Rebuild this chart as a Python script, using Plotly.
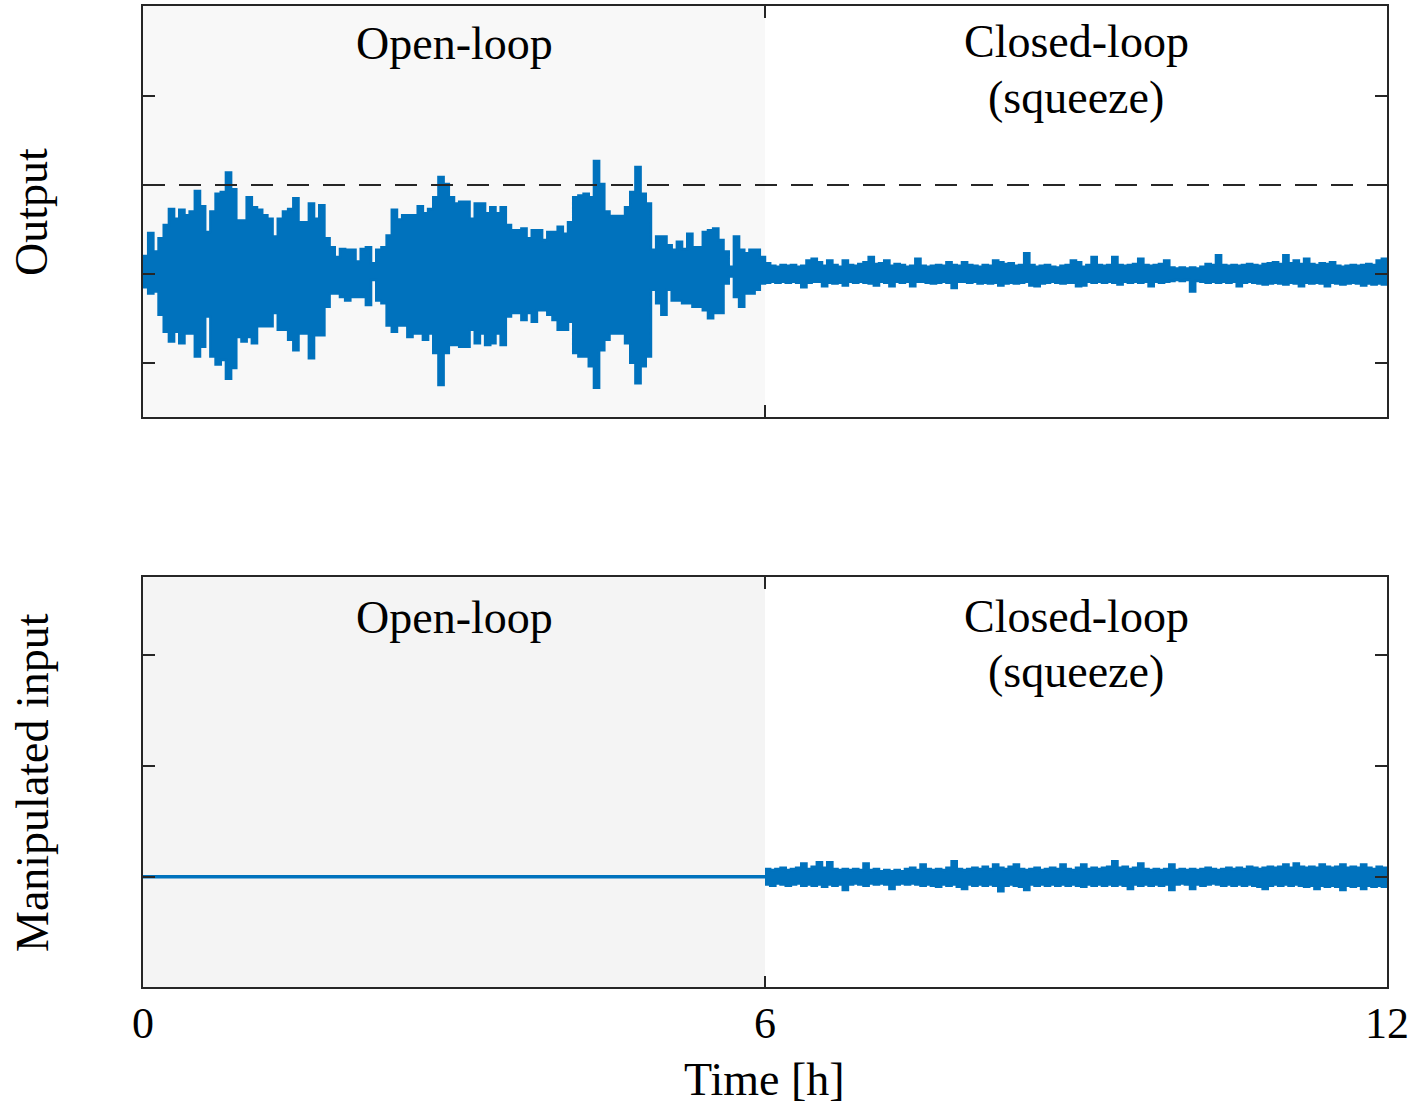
import plotly.graph_objects as go

# ---------------------------------------------------------------
# Data: signal envelopes sampled every 0.05 h (value holds until next sample)
# ---------------------------------------------------------------
dt = 0.05
t_switch = 6.0      # hand-over from open-loop to closed-loop [h]
t_end = 12.0
y_limit = 1.0       # output constraint (dashed line)
u_open = 0.0        # manipulated input held constant in open loop

# Output, open-loop phase (0-6 h): upper / lower envelope
out_open_hi = [
    0.20, 0.46, 0.25, 0.40, 0.55, 0.73, 0.62, 0.72, 0.66, 0.70,
    0.93, 0.76, 0.47, 0.70, 0.90, 0.92, 1.14, 0.95, 0.60, 0.60,
    0.86, 0.75, 0.72, 0.66, 0.62, 0.42, 0.62, 0.70, 0.73, 0.85,
    0.58, 0.58, 0.79, 0.62, 0.77, 0.40, 0.30, 0.19, 0.28, 0.27,
    0.27, 0.14, 0.28, 0.30, 0.12, 0.27, 0.30, 0.43, 0.72, 0.61,
    0.66, 0.66, 0.66, 0.76, 0.68, 0.73, 0.86, 1.09, 1.01, 0.86,
    0.79, 0.81, 0.81, 0.62, 0.79, 0.79, 0.68, 0.75, 0.68, 0.75,
    0.55, 0.49, 0.49, 0.51, 0.40, 0.49, 0.49, 0.38, 0.47, 0.47,
    0.53, 0.45, 0.58, 0.86, 0.88, 0.90, 0.86, 1.27, 1.01, 0.70,
    0.65, 0.65, 0.65, 0.75, 0.92, 1.20, 0.90, 0.79, 0.27, 0.42,
    0.42, 0.32, 0.27, 0.36, 0.28, 0.45, 0.30, 0.30, 0.47, 0.49,
    0.51, 0.38, 0.25, 0.08, 0.42, 0.27, 0.23, 0.27, 0.27, 0.19,
]
out_open_lo = [
    -0.15, -0.22, -0.20, -0.46, -0.65, -0.76, -0.65, -0.78, -0.67, -0.67,
    -0.93, -0.82, -0.48, -0.93, -1.02, -0.97, -1.18, -1.06, -0.71, -0.76,
    -0.71, -0.78, -0.59, -0.59, -0.59, -0.44, -0.63, -0.63, -0.74, -0.86,
    -0.67, -0.67, -0.95, -0.69, -0.69, -0.37, -0.22, -0.22, -0.26, -0.30,
    -0.26, -0.26, -0.26, -0.35, -0.07, -0.30, -0.33, -0.58, -0.65, -0.58,
    -0.58, -0.71, -0.67, -0.67, -0.74, -0.67, -0.89, -1.25, -0.89, -0.80,
    -0.80, -0.82, -0.82, -0.63, -0.78, -0.67, -0.80, -0.78, -0.67, -0.80,
    -0.48, -0.44, -0.44, -0.52, -0.44, -0.54, -0.41, -0.41, -0.46, -0.52,
    -0.63, -0.63, -0.54, -0.89, -0.93, -0.93, -1.04, -1.28, -0.86, -0.74,
    -0.67, -0.67, -0.67, -0.78, -1.00, -1.23, -1.04, -0.93, -0.18, -0.33,
    -0.46, -0.18, -0.30, -0.30, -0.33, -0.33, -0.37, -0.37, -0.41, -0.50,
    -0.44, -0.44, -0.11, -0.03, -0.26, -0.37, -0.22, -0.22, -0.18, -0.11,
]

# Output, closed-loop phase (6-12 h)
out_closed_hi = [
    0.12, 0.09, 0.08, 0.10, 0.09, 0.10, 0.08, 0.09, 0.15, 0.17,
    0.13, 0.09, 0.15, 0.10, 0.08, 0.15, 0.10, 0.09, 0.11, 0.13,
    0.19, 0.11, 0.12, 0.15, 0.09, 0.11, 0.10, 0.08, 0.09, 0.17,
    0.09, 0.08, 0.09, 0.10, 0.09, 0.13, 0.10, 0.09, 0.13, 0.10,
    0.09, 0.08, 0.10, 0.09, 0.15, 0.13, 0.11, 0.12, 0.09, 0.10,
    0.23, 0.10, 0.08, 0.09, 0.10, 0.08, 0.07, 0.09, 0.10, 0.15,
    0.13, 0.08, 0.10, 0.19, 0.10, 0.09, 0.10, 0.19, 0.10, 0.09,
    0.10, 0.11, 0.17, 0.10, 0.09, 0.10, 0.11, 0.15, 0.07, 0.06,
    0.07, 0.06, 0.07, 0.06, 0.08, 0.11, 0.10, 0.21, 0.10, 0.09,
    0.10, 0.09, 0.10, 0.11, 0.10, 0.09, 0.11, 0.12, 0.13, 0.11,
    0.21, 0.12, 0.15, 0.11, 0.17, 0.11, 0.10, 0.12, 0.11, 0.13,
    0.09, 0.08, 0.09, 0.10, 0.09, 0.10, 0.11, 0.10, 0.15, 0.17,
]
out_closed_lo = [
    -0.10, -0.09, -0.10, -0.09, -0.10, -0.09, -0.10, -0.15, -0.10, -0.09,
    -0.09, -0.14, -0.10, -0.11, -0.10, -0.13, -0.09, -0.10, -0.09, -0.10,
    -0.11, -0.13, -0.09, -0.10, -0.14, -0.09, -0.10, -0.09, -0.14, -0.09,
    -0.09, -0.10, -0.11, -0.10, -0.09, -0.10, -0.16, -0.09, -0.09, -0.10,
    -0.09, -0.11, -0.10, -0.11, -0.10, -0.13, -0.11, -0.10, -0.11, -0.10,
    -0.09, -0.13, -0.14, -0.11, -0.10, -0.09, -0.10, -0.11, -0.10, -0.10,
    -0.14, -0.13, -0.09, -0.10, -0.09, -0.10, -0.09, -0.10, -0.12, -0.09,
    -0.10, -0.09, -0.10, -0.09, -0.14, -0.09, -0.10, -0.09, -0.08, -0.07,
    -0.08, -0.07, -0.20, -0.08, -0.09, -0.10, -0.09, -0.10, -0.09, -0.10,
    -0.09, -0.14, -0.10, -0.09, -0.10, -0.11, -0.12, -0.11, -0.10, -0.11,
    -0.12, -0.10, -0.11, -0.14, -0.10, -0.11, -0.10, -0.11, -0.14, -0.10,
    -0.11, -0.12, -0.11, -0.10, -0.11, -0.13, -0.11, -0.12, -0.11, -0.12,
]

# Manipulated input, closed-loop phase (6-12 h)
u_closed_hi = [
    0.07, 0.06, 0.07, 0.08, 0.06, 0.07, 0.08, 0.12, 0.07, 0.09,
    0.13, 0.08, 0.13, 0.07, 0.06, 0.07, 0.06, 0.07, 0.06, 0.12,
    0.06, 0.07, 0.05, 0.06, 0.05, 0.06, 0.05, 0.07, 0.08, 0.06,
    0.11, 0.07, 0.06, 0.07, 0.06, 0.08, 0.14, 0.07, 0.06, 0.07,
    0.08, 0.07, 0.09, 0.07, 0.11, 0.08, 0.07, 0.09, 0.11, 0.07,
    0.06, 0.07, 0.08, 0.06, 0.07, 0.08, 0.07, 0.11, 0.07, 0.06,
    0.08, 0.11, 0.07, 0.08, 0.07, 0.08, 0.09, 0.14, 0.08, 0.09,
    0.07, 0.08, 0.12, 0.07, 0.06, 0.07, 0.06, 0.07, 0.11, 0.06,
    0.07, 0.06, 0.07, 0.06, 0.07, 0.08, 0.07, 0.06, 0.07, 0.08,
    0.07, 0.08, 0.07, 0.09, 0.08, 0.07, 0.08, 0.09, 0.08, 0.09,
    0.11, 0.08, 0.12, 0.09, 0.08, 0.09, 0.08, 0.11, 0.09, 0.08,
    0.09, 0.11, 0.08, 0.09, 0.08, 0.11, 0.08, 0.07, 0.09, 0.08,
]
u_closed_lo = [
    -0.07, -0.08, -0.06, -0.07, -0.08, -0.07, -0.06, -0.08, -0.07, -0.08,
    -0.07, -0.09, -0.07, -0.08, -0.07, -0.12, -0.07, -0.06, -0.07, -0.08,
    -0.06, -0.07, -0.06, -0.07, -0.11, -0.07, -0.06, -0.07, -0.06, -0.07,
    -0.08, -0.07, -0.08, -0.09, -0.07, -0.08, -0.07, -0.09, -0.11, -0.07,
    -0.08, -0.07, -0.08, -0.07, -0.08, -0.13, -0.08, -0.07, -0.08, -0.09,
    -0.12, -0.07, -0.08, -0.07, -0.08, -0.07, -0.08, -0.07, -0.08, -0.07,
    -0.08, -0.09, -0.07, -0.08, -0.07, -0.08, -0.07, -0.08, -0.07, -0.08,
    -0.11, -0.07, -0.08, -0.07, -0.08, -0.07, -0.08, -0.07, -0.12, -0.07,
    -0.06, -0.07, -0.11, -0.07, -0.08, -0.07, -0.06, -0.07, -0.08, -0.07,
    -0.08, -0.07, -0.08, -0.07, -0.08, -0.09, -0.11, -0.08, -0.07, -0.08,
    -0.07, -0.08, -0.07, -0.08, -0.09, -0.08, -0.11, -0.08, -0.09, -0.08,
    -0.09, -0.12, -0.08, -0.09, -0.08, -0.11, -0.08, -0.09, -0.08, -0.09,
]

x_ticks = [0, 6, 12]
x_ticktext = ["0", "6", "12"]
y_ticks_out = [-1, 0, 1, 2]
y_ticks_in = [0, 1, 2]

# ---------------------------------------------------------------
# Styling
# ---------------------------------------------------------------
BLUE = "#0072BD"
AX = "#262626"
FONT = "Liberation Serif"
FS = 46


def step_times(t0, n):
    return [round(t0 + dt * k, 4) for k in range(n + 1)]


def hold_last(vals):
    return list(vals) + [vals[-1]]


t_out = step_times(0.0, len(out_open_hi) + len(out_closed_hi))
out_hi = hold_last(out_open_hi + out_closed_hi)
out_lo = hold_last(out_open_lo + out_closed_lo)
t_u = step_times(t_switch, len(u_closed_hi))

fig = go.Figure()

# Output band (dense oscillation rendered as envelope)
fig.add_trace(go.Scatter(x=t_out, y=out_hi, mode="lines",
                         line=dict(color=BLUE, width=2.5, shape="hv"),
                         xaxis="x", yaxis="y", showlegend=False, hoverinfo="skip"))
fig.add_trace(go.Scatter(x=t_out, y=out_lo, mode="lines",
                         line=dict(color=BLUE, width=2.5, shape="hv"),
                         fill="tonexty", fillcolor=BLUE,
                         xaxis="x", yaxis="y", showlegend=False, hoverinfo="skip"))

# Manipulated input: constant in open loop, then active
fig.add_trace(go.Scatter(x=[0.0, t_switch], y=[u_open, u_open], mode="lines",
                         line=dict(color=BLUE, width=3.4),
                         xaxis="x2", yaxis="y2", showlegend=False, hoverinfo="skip"))
fig.add_trace(go.Scatter(x=t_u, y=hold_last(u_closed_hi), mode="lines",
                         line=dict(color=BLUE, width=2.5, shape="hv"),
                         xaxis="x2", yaxis="y2", showlegend=False, hoverinfo="skip"))
fig.add_trace(go.Scatter(x=t_u, y=hold_last(u_closed_lo), mode="lines",
                         line=dict(color=BLUE, width=2.5, shape="hv"),
                         fill="tonexty", fillcolor=BLUE,
                         xaxis="x2", yaxis="y2", showlegend=False, hoverinfo="skip"))

axis_style = dict(
    showline=True, linecolor=AX, linewidth=1.5, mirror="allticks",
    ticks="inside", ticklen=12, tickwidth=1.5, tickcolor=AX,
    showgrid=False, zeroline=False, automargin=False,
)

X_DOM = [143 / 1415, 1387 / 1415]

fig.update_layout(
    width=1415, height=1106,
    margin=dict(l=0, r=0, t=0, b=0),
    paper_bgcolor="white", plot_bgcolor="white",
    font=dict(family=FONT, size=FS, color="black"),
    xaxis=dict(domain=X_DOM, range=[0, t_end], anchor="y",
               tickvals=x_ticks, showticklabels=False, **axis_style),
    yaxis=dict(domain=[0.6232, 0.9946], range=[-1.607, 3.012], anchor="x",
               tickvals=y_ticks_out, showticklabels=False, **axis_style),
    xaxis2=dict(domain=X_DOM, range=[0, t_end], anchor="y2",
                tickvals=x_ticks, ticktext=x_ticktext, ticklabelstandoff=-4,
                tickfont=dict(family=FONT, size=44, color="black"), **axis_style),
    yaxis2=dict(domain=[0.1073, 0.4780], range=[-0.996, 2.697], anchor="x2",
                tickvals=y_ticks_in, showticklabels=False, **axis_style),
)

# Shaded open-loop phase
fig.add_shape(type="rect", xref="x", yref="y domain", x0=0, x1=t_switch, y0=0, y1=1,
              fillcolor="#f8f8f8", line=dict(width=0), layer="below")
fig.add_shape(type="rect", xref="x2", yref="y2 domain", x0=0, x1=t_switch, y0=0, y1=1,
              fillcolor="#f4f4f4", line=dict(width=0), layer="below")

# Constraint on the output
fig.add_shape(type="line", xref="x", yref="y", x0=0, x1=t_end, y0=y_limit, y1=y_limit,
              line=dict(color=AX, width=2, dash="22px,14px"))


def py(px):
    return 1 - px / 1106


txt = dict(family=FONT, size=FS, color="black")


def label(text, x, y_px, xref="x"):
    fig.add_annotation(text=text, x=x, xref=xref, y=py(y_px), yref="paper",
                       showarrow=False, xanchor="center", yanchor="middle", font=txt)


# Phase labels (pixel rows of each line's centre)
for open_c, closed_c, squeeze_c in [(43, 42, 97), (617, 616, 671)]:
    label("Open-loop", 3, open_c)
    label("Closed-loop", 9, closed_c)
    label("(squeeze)", 9, squeeze_c)

fig.add_annotation(text="Output", x=32 / 1415, xref="paper", y=py(212), yref="paper",
                   textangle=-90, showarrow=False, xanchor="center", yanchor="middle", font=txt)
fig.add_annotation(text="Manipulated input", x=32 / 1415, xref="paper", y=py(783), yref="paper",
                   textangle=-90, showarrow=False, xanchor="center", yanchor="middle", font=txt)
label("Time [h]", 764 / 1415, 1079, xref="paper")

fig.write_html("out.html")
